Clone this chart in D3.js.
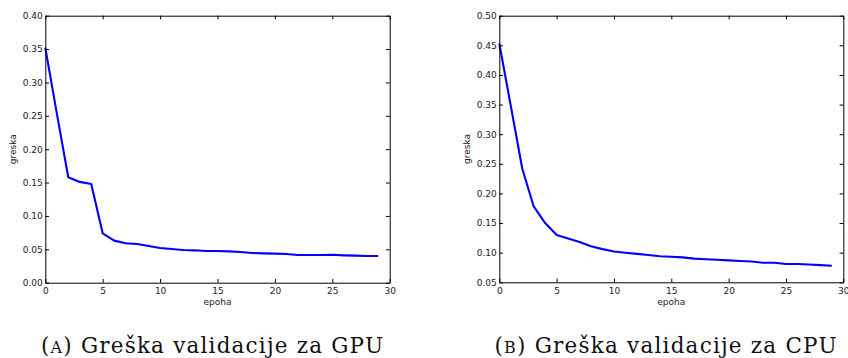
<!DOCTYPE html>
<html>
<head>
<meta charset="utf-8">
<script src="https://cdn.jsdelivr.net/npm/d3@7"></script>
<style>
  html, body { margin: 0; padding: 0; background: #fff; }
  svg { display: block; }
</style>
</head>
<body>
<svg id="chart" width="848" height="358"></svg>
<script>
// ---- data ----
const epochs = d3.range(0, 30);
const gpuError = [0.352, 0.254, 0.158, 0.151, 0.148, 0.074, 0.063, 0.059, 0.058, 0.055,
                  0.052, 0.0505, 0.049, 0.0485, 0.0475, 0.0475, 0.047, 0.046, 0.0445, 0.044,
                  0.0435, 0.043, 0.0415, 0.0415, 0.0415, 0.0418, 0.041, 0.0405, 0.040, 0.040];
const cpuError = [0.453, 0.348, 0.242, 0.178, 0.150, 0.130, 0.124, 0.118, 0.111, 0.106,
                  0.102, 0.100, 0.098, 0.096, 0.094, 0.093, 0.092, 0.090, 0.089, 0.088,
                  0.087, 0.086, 0.085, 0.083, 0.083, 0.081, 0.081, 0.080, 0.079, 0.078];
const xTicks = [0, 5, 10, 15, 20, 25, 30];
const gpuYTicks = [0.00, 0.05, 0.10, 0.15, 0.20, 0.25, 0.30, 0.35, 0.40];
const cpuYTicks = [0.05, 0.10, 0.15, 0.20, 0.25, 0.30, 0.35, 0.40, 0.45, 0.50];
const xLabel = "epoha";
const yLabel = "greska";
const captions = [["A", " Greška validacije za GPU"], ["B", " Greška validacije za CPU"]];

const svg = d3.select("#chart");

function panel(cfg) {
  const { left, right, top, bottom, yDomain, yTicks, values, caption, captionX } = cfg;
  const x = d3.scaleLinear().domain([0, 30]).range([left, right]);
  const y = d3.scaleLinear().domain(yDomain).range([bottom, top]);
  const g = svg.append("g");
  const tickLen = 3.7;

  // data line
  g.append("path")
    .datum(epochs.map((e, i) => [e, values[i]]))
    .attr("fill", "none")
    .attr("stroke", "#0000ff")
    .attr("stroke-width", 2.1)
    .attr("stroke-linejoin", "round")
    .attr("d", d3.line().x(d => x(d[0])).y(d => y(d[1])));

  // axes (ticks inward on all sides)
  const axB = d3.axisBottom(x).tickValues(xTicks).tickFormat(d3.format("d"))
    .tickSizeInner(-tickLen).tickSizeOuter(0).tickPadding(5);
  const axT = d3.axisTop(x).tickValues(xTicks).tickFormat("")
    .tickSizeInner(-tickLen).tickSizeOuter(0);
  const axL = d3.axisLeft(y).tickValues(yTicks).tickFormat(d3.format(".2f"))
    .tickSizeInner(-tickLen).tickSizeOuter(0).tickPadding(2.5);
  const axR = d3.axisRight(y).tickValues(yTicks).tickFormat("")
    .tickSizeInner(-tickLen).tickSizeOuter(0);

  const style = sel => {
    sel.selectAll("path.domain").attr("stroke", "#000").attr("stroke-width", 1);
    sel.selectAll(".tick line").attr("stroke", "#000").attr("stroke-width", 1);
    sel.selectAll("text").attr("font-family", "DejaVu Sans").attr("font-size", 9).attr("fill", "#222");
  };
  g.append("g").attr("transform", `translate(0,${bottom})`).call(axB).call(style);
  g.append("g").attr("transform", `translate(0,${top})`).call(axT).call(style);
  g.append("g").attr("transform", `translate(${left},0)`).call(axL).call(style);
  g.append("g").attr("transform", `translate(${right},0)`).call(axR).call(style);

  // axis labels
  g.append("text")
    .attr("x", (left + right) / 2).attr("y", bottom + 22.5)
    .attr("text-anchor", "middle")
    .attr("font-family", "DejaVu Sans").attr("font-size", 9).attr("fill", "#222")
    .text(xLabel);
  g.append("text")
    .attr("transform", `translate(${left - 29.5},${(top + bottom) / 2}) rotate(-90)`)
    .attr("text-anchor", "middle")
    .attr("font-family", "DejaVu Sans").attr("font-size", 9).attr("fill", "#222")
    .text(yLabel);

  // caption
  const t = svg.append("text")
    .attr("x", captionX - 171).attr("y", 353)
    .attr("textLength", 342).attr("lengthAdjust", "spacing")
    .attr("font-family", "DejaVu Serif").attr("font-size", 21.5).attr("fill", "#111");
  t.append("tspan").text("(");
  t.append("tspan").attr("font-size", 16).text(caption[0]);
  t.append("tspan").text(")" + caption[1]);
}

panel({ left: 45.3, right: 389.7, top: 15.7, bottom: 282.7, yDomain: [0, 0.4],
        yTicks: gpuYTicks, values: gpuError, caption: captions[0], captionX: 212 });
panel({ left: 499.3, right: 843.3, top: 15.7, bottom: 282.3, yDomain: [0.05, 0.5],
        yTicks: cpuYTicks, values: cpuError, caption: captions[1], captionX: 665.5 });
</script>
</body>
</html>
